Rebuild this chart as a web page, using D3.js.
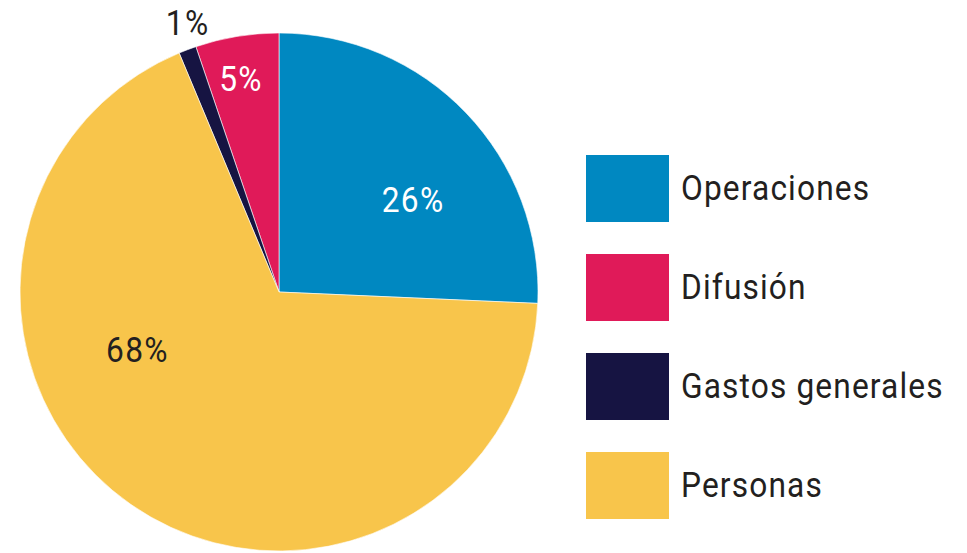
<!DOCTYPE html>
<html lang="es">
<head>
  <meta charset="UTF-8">
  <title>Distribución de gastos</title>
  <script src="https://d3js.org/d3.v7.min.js"></script>
  <style>
    body {
      margin: 0;
      background: #fff;
      font-family: Roboto, "DejaVu Sans", sans-serif;
    }
    svg text {
      fill: #231f20;
      font-weight: 400;
    }
  </style>
</head>
<body>
  <div id="chart"></div>

  <script>
    // data, in legend order
    const categories = ["Operaciones", "Difusión", "Gastos generales", "Personas"];
    const values = [25.7, 5.2, 1.1, 68.0];
    const labels = ["26%", "5%", "1%", "68%"];
    const colors = ["#0088c1", "#e01a59", "#161442", "#f8c54b"];
    // clockwise order of the slices starting from 12 o'clock
    const drawOrder = ["Operaciones", "Personas", "Gastos generales", "Difusión"];

    const width = 967, height = 553;
    const cx = 279, cy = 292, radius = 259;
    const squeeze = 0.88; // narrow DIN-like look

    const svg = d3.select("#chart").append("svg")
      .attr("width", width)
      .attr("height", height);

    const data = categories.map((c, i) => ({ name: c, value: values[i], label: labels[i], color: colors[i] }));

    const pie = d3.pie()
      .value(d => d.value)
      .sort((a, b) => drawOrder.indexOf(a.name) - drawOrder.indexOf(b.name));

    const arc = d3.arc().innerRadius(0).outerRadius(radius);
    const arcs = pie(data);

    const g = svg.append("g").attr("transform", `translate(${cx},${cy})`);

    g.selectAll("path")
      .data(arcs)
      .enter().append("path")
      .attr("d", arc)
      .attr("fill", d => d.data.color)
      .attr("stroke", "#fff")
      .attr("stroke-width", 0.6);

    // label placement: radius factor and angle shift (degrees) from slice middle
    const labelLayout = {
      "Operaciones": { r: 0.63, shift: 9 },
      "Difusión": { r: 0.84, shift: -0.7 },
      "Gastos generales": { r: 1.1, shift: 2 },
      "Personas": { r: 0.59, shift: 33 }
    };
    const labelColor = { "Operaciones": "#fff", "Difusión": "#fff", "Gastos generales": "#231f20", "Personas": "#231f20" };

    g.selectAll(".lbl")
      .data(arcs)
      .enter().append("text")
      .attr("class", "lbl")
      .attr("transform", d => {
        const lay = labelLayout[d.data.name];
        const a = (d.startAngle + d.endAngle) / 2 + lay.shift * Math.PI / 180;
        const r = radius * lay.r;
        return `translate(${r * Math.sin(a)},${-r * Math.cos(a)}) scale(${squeeze},1)`;
      })
      .attr("text-anchor", "middle")
      .attr("dy", "0.36em")
      .attr("font-size", 36)
      .attr("letter-spacing", 1.5)
      .style("fill", d => labelColor[d.data.name])
      .text(d => d.data.label);

    // legend
    const legend = svg.append("g").attr("transform", "translate(586,155)");
    const item = legend.selectAll(".item")
      .data(data)
      .enter().append("g")
      .attr("class", "item")
      .attr("transform", (d, i) => `translate(0,${i * 99})`);

    item.append("rect")
      .attr("width", 83)
      .attr("height", 67)
      .attr("fill", d => d.color);

    item.append("text")
      .attr("transform", `translate(95,45) scale(${squeeze},1)`)
      .attr("font-size", 36)
      .attr("letter-spacing", 1.3)
      .text(d => d.name);
  </script>
</body>
</html>
